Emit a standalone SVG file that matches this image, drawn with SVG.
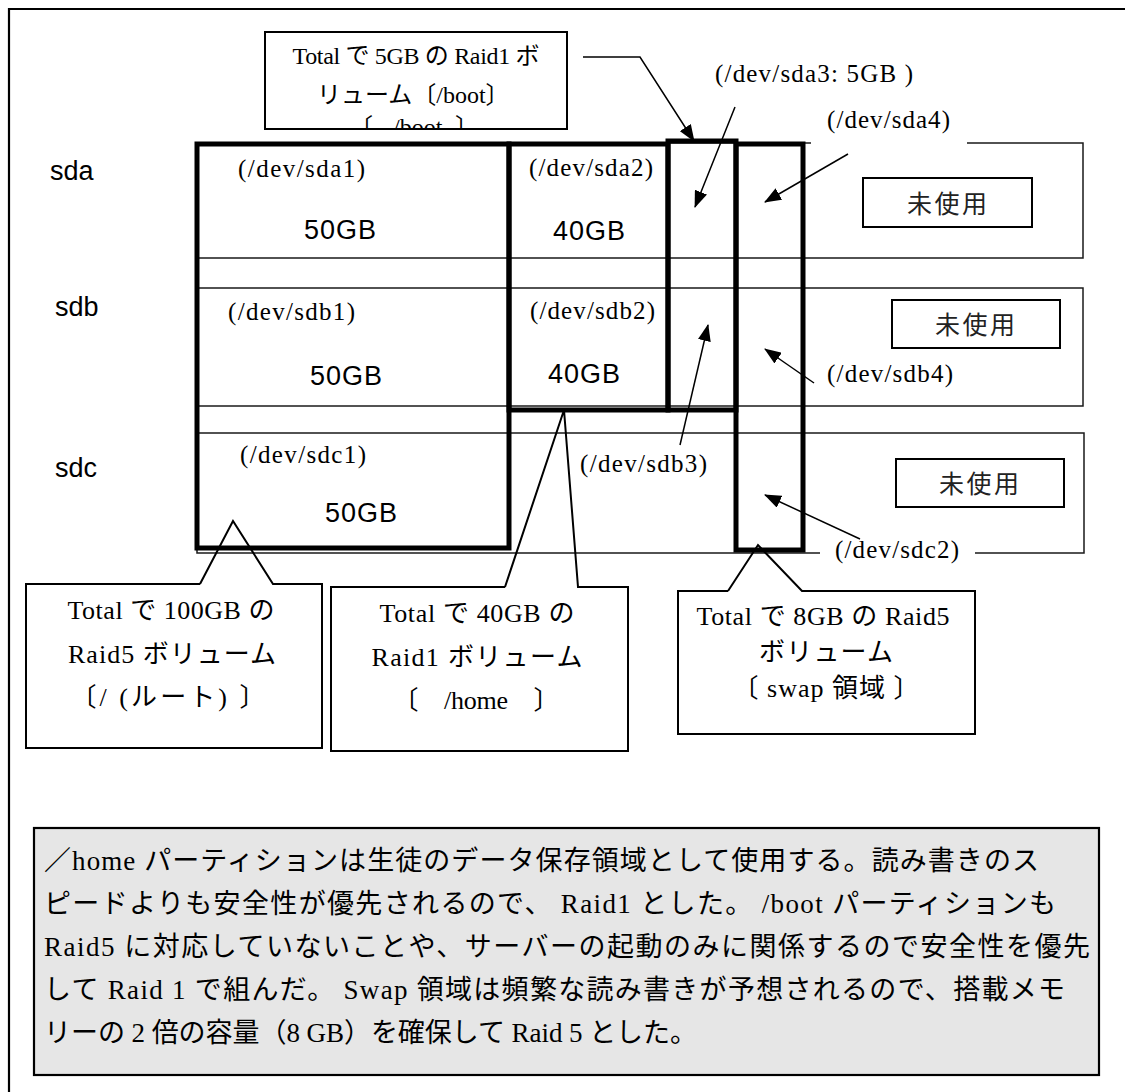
<svg xmlns="http://www.w3.org/2000/svg" width="1125" height="1092" viewBox="0 0 1125 1092">
<defs>
<marker id="ah" markerUnits="userSpaceOnUse" markerWidth="17" markerHeight="13" refX="16" refY="6.5" orient="auto"><path d="M0,0 L17,6.5 L0,13 Z" fill="#000"/></marker>
<clipPath id="clipTop"><rect x="266" y="33" width="300" height="95"/></clipPath>
</defs>
<style>
.thin{fill:none;stroke:#1a1a1a;stroke-width:1.5}
.thick{fill:none;stroke:#000;stroke-width:5}
.co{fill:none;stroke:#000;stroke-width:2}
.box{fill:#fff;stroke:#000;stroke-width:2}
.ser{font-family:'Liberation Serif','Noto Sans CJK JP',serif;font-size:25px;fill:#000}
.cl{font-family:'Liberation Serif','Noto Sans CJK JP',serif;font-size:26px;fill:#000}
.ct{font-family:'Liberation Serif','Noto Sans CJK JP',serif;font-size:24px;fill:#000}
.note{font-family:'Liberation Serif','Noto Sans CJK JP',serif;font-size:27px;fill:#000}
.san{font-family:'Liberation Sans',Arial,sans-serif;font-size:27px;fill:#000}
.jp{font-family:'Noto Sans CJK JP',sans-serif;font-size:25px;fill:#222}
.arrow{stroke:#000;stroke-width:1.5;fill:none;marker-end:url(#ah)}
</style>
<rect width="1125" height="1092" fill="#fff"/>
<g id="frame">
<path d="M9,1092 V9 H1125" fill="none" stroke="#000" stroke-width="2.2"/>
</g>
<g id="rows">
<path class="thin" d="M811,143 H197 V258 H1083 V143 H967"/>
<rect class="thin" x="197" y="288" width="886" height="118"/>
<path class="thin" d="M820,553 H197 V433 H1084 V553 H975"/>
</g>
<g id="disk-labels">
<text class="san" x="50" y="180">sda</text>
<text class="san" x="55" y="316">sdb</text>
<text class="san" x="55" y="477">sdc</text>
</g>
<g id="raid5-root">
<rect class="thick" x="197" y="144" width="312" height="404"/>
<text class="ser" x="238" y="177" textLength="127">(/dev/sda1)</text>
<text class="san" x="304" y="239" textLength="72">50GB</text>
<text class="ser" x="228" y="320" textLength="127">(/dev/sdb1)</text>
<text class="san" x="310" y="385" textLength="72">50GB</text>
<text class="ser" x="240" y="463" textLength="126">(/dev/sdc1)</text>
<text class="san" x="325" y="522" textLength="72">50GB</text>
</g>
<g id="raid1-home">
<rect class="thick" x="509" y="144" width="159" height="266"/>
<text class="ser" x="529" y="176" textLength="124">(/dev/sda2)</text>
<text class="san" x="553" y="240" textLength="72">40GB</text>
<text class="ser" x="530" y="319" textLength="125">(/dev/sdb2)</text>
<text class="san" x="548" y="383" textLength="72">40GB</text>
</g>
<g id="raid1-boot">
<rect class="thick" x="668" y="141" width="68" height="269"/>
</g>
<g id="raid5-swap">
<rect class="thick" x="736" y="144" width="67" height="406"/>
</g>
<g id="unused-sda">
<rect class="box" x="863" y="178" width="169" height="49"/>
<text class="jp" x="947" y="213" text-anchor="middle" textLength="80">未使用</text>
</g>
<g id="unused-sdb">
<rect class="box" x="892" y="300" width="168" height="48"/>
<text class="jp" x="975" y="334" text-anchor="middle" textLength="80">未使用</text>
</g>
<g id="unused-sdc">
<rect class="box" x="896" y="459" width="168" height="48"/>
<text class="jp" x="979" y="493" text-anchor="middle" textLength="80">未使用</text>
</g>
<g id="labels">
<text class="ser" x="580" y="472" textLength="127">(/dev/sdb3)</text>
<text class="ser" x="715" y="82" textLength="198">(/dev/sda3: 5GB )</text>
<text class="ser" x="827" y="128" textLength="123">(/dev/sda4)</text>
<text class="ser" x="827" y="382" textLength="126">(/dev/sdb4)</text>
<text class="ser" x="835" y="558" textLength="124">(/dev/sdc2)</text>
</g>
<g id="callout-boot">
<rect class="box" x="265" y="32" width="302" height="97"/>
<g clip-path="url(#clipTop)">
<text class="ct" x="416" y="64" text-anchor="middle" textLength="247">Total で 5GB の Raid1 ボ</text>
<text class="ct" x="317" y="103">リューム〔/boot〕</text>
<text class="ct" y="135"><tspan x="349">〔</tspan><tspan x="393">/boot</tspan><tspan x="455">〕</tspan></text>
</g>
</g>
<g id="callout-root">
<path class="co" d="M200,584 H26 V748 H322 V584 H273 L233,521 L200,584"/>
<text class="cl" x="171" y="619" text-anchor="middle" textLength="207">Total で 100GB の</text>
<text class="cl" x="172" y="663" text-anchor="middle" textLength="208">Raid5 ボリューム</text>
<text class="cl" x="168" y="706" text-anchor="middle" textLength="195">〔/ (ルート) 〕</text>
</g>
<g id="callout-home">
<path class="co" d="M505,587 H331 V751 H628 V587 H578 L564,410 L505,587"/>
<text class="cl" x="477" y="622" text-anchor="middle" textLength="195">Total で 40GB の</text>
<text class="cl" x="477" y="666" text-anchor="middle" textLength="211">Raid1 ボリューム</text>
<text class="cl" x="476" y="709" text-anchor="middle" textLength="167">〔　/home　〕</text>
</g>
<g id="callout-swap">
<path class="co" d="M728,591 H678 V734 H975 V591 H802 L758,545 L728,591"/>
<text class="cl" x="823" y="625" text-anchor="middle" textLength="253">Total で 8GB の Raid5</text>
<text class="cl" x="826" y="661" text-anchor="middle" textLength="134">ボリューム</text>
<text class="cl" x="826" y="697" text-anchor="middle" textLength="187">〔 swap 領域 〕</text>
</g>
<g id="connectors">
<polyline class="arrow" points="583,57 640,57 694,141"/>
<line class="arrow" x1="735" y1="107" x2="695" y2="207"/>
<line class="arrow" x1="848" y1="154" x2="765" y2="202"/>
<line class="arrow" x1="680" y1="445" x2="708" y2="325"/>
<line class="arrow" x1="814" y1="383" x2="765" y2="349"/>
<line class="arrow" x1="860" y1="539" x2="765" y2="495"/>
</g>
<g id="note">
<rect x="34" y="828" width="1065" height="247" fill="#e6e6e6" stroke="#000" stroke-width="2.2"/>
<text class="note" x="44" y="870" textLength="995">／home パーティションは生徒のデータ保存領域として使用する。読み書きのス</text>
<text class="note" x="44" y="913" textLength="1012">ピードよりも安全性が優先されるので、 Raid1 とした。 /boot パーティションも</text>
<text class="note" x="44" y="956" textLength="1046">Raid5 に対応していないことや、サーバーの起動のみに関係するので安全性を優先</text>
<text class="note" x="44" y="999" textLength="1021">して Raid 1 で組んだ。 Swap 領域は頻繁な読み書きが予想されるので、搭載メモ</text>
<text class="note" x="44" y="1042" textLength="653">リーの 2 倍の容量（8 GB）を確保して Raid 5 とした。</text>
</g>
</svg>
